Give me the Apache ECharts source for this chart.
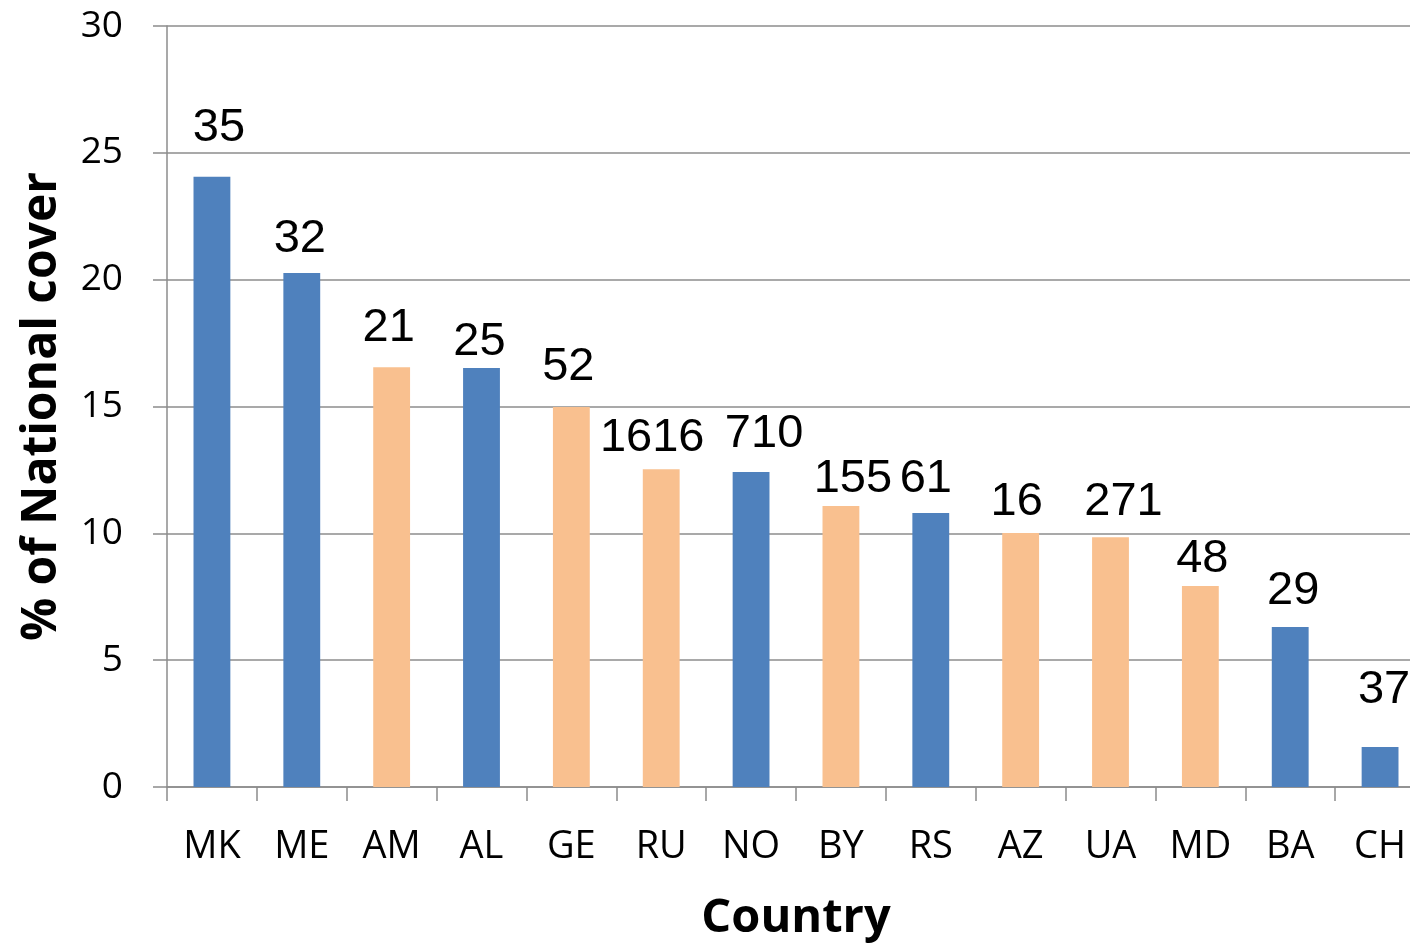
<!DOCTYPE html>
<html>
<head>
<meta charset="utf-8">
<script src="https://cdn.jsdelivr.net/npm/echarts@6/dist/echarts.min.js"></script>
<style>
html,body{margin:0;padding:0;background:#fff;}
#chart{width:1410px;height:943px;}
</style>
</head>
<body>
<div id="chart"></div>
<script>
const categories = ['MK','ME','AM','AL','GE','RU','NO','BY','RS','AZ','UA','MD','BA','CH'];
const values = [24.06, 20.26, 16.55, 16.52, 14.98, 12.53, 12.42, 11.08, 10.8, 10.01, 9.85, 7.92, 6.31, 1.58];
const counts = ['35','32','21','25','52','1616','710','155','61','16','271','48','29','37'];
const groups = ['A','A','B','A','B','B','A','B','A','B','B','B','A','A'];
const yTicks = [0, 5, 10, 15, 20, 25, 30];

// label nudges (pixels) to mirror the reference label placement
const labelShiftX = [7, -2, -3, -2, -3, -9, 13, 12, -5, -4, 13, 2, 3, 4];
const labelShiftY = [-13, 1, -4, 10, -4, 4, -2, 9, 2, 4, 0, 8, 0, -21];

const groupColor = { A: '#4F81BD', B: '#F9C08F' };

const chart = echarts.init(document.getElementById('chart'), null, { renderer: 'canvas' });
chart.setOption({
  animation: false,
  backgroundColor: '#ffffff',
  grid: { left: 167, width: 1258, top: 26, bottom: 156, containLabel: false, outerBoundsMode: 'none' },
  xAxis: {
    type: 'category',
    data: categories,
    name: 'Country',
    nameLocation: 'middle',
    nameGap: 108,
    nameTextStyle: { fontFamily: 'Open Sans', fontWeight: 'bold', fontSize: 47, color: '#000' },
    axisLine: { lineStyle: { color: '#8c8c8c', width: 1.5 } },
    axisTick: { show: true, alignWithLabel: false, length: 14, lineStyle: { color: '#8c8c8c', width: 1.5 } },
    axisLabel: { fontFamily: 'Open Sans', fontSize: 38, color: '#000', margin: 41 }
  },
  yAxis: {
    type: 'value',
    min: yTicks[0],
    max: yTicks[yTicks.length - 1],
    interval: 5,
    name: '% of National cover',
    nameLocation: 'middle',
    nameGap: 101,
    nameTextStyle: { fontFamily: 'Open Sans', fontWeight: 'bold', fontSize: 48, color: '#000' },
    axisLine: { show: true, lineStyle: { color: '#8c8c8c', width: 1.5 } },
    axisTick: { show: true, length: 14, lineStyle: { color: '#8c8c8c', width: 1.5 } },
    axisLabel: { fontFamily: 'Open Sans', fontSize: 37, color: '#000', margin: 44 },
    splitLine: { lineStyle: { color: '#8c8c8c', width: 1.5 } }
  },
  series: [{
    type: 'bar',
    barWidth: '41%',
    data: values.map((v, i) => ({
      value: v,
      itemStyle: { color: groupColor[groups[i]] },
      label: { formatter: counts[i], offset: [labelShiftX[i], labelShiftY[i]] }
    })),
    label: {
      show: true,
      position: 'top',
      distance: 12,
      fontFamily: 'Liberation Sans',
      fontSize: 47,
      color: '#000'
    }
  }]
});
</script>
</body>
</html>
